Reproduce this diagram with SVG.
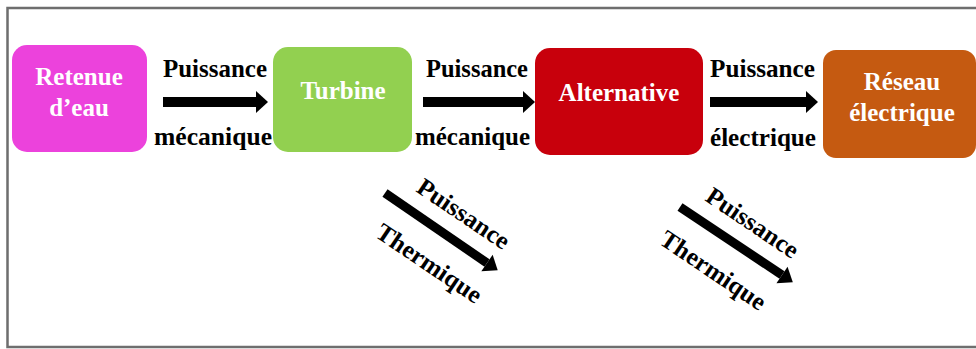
<svg xmlns="http://www.w3.org/2000/svg" width="976" height="349" viewBox="0 0 976 349">
  <defs>
    <style>
      .lbl { font-family: "Liberation Serif", "Times New Roman", serif; font-weight: bold; font-size: 25px; fill: #000; }
      .ntx { font-family: "Liberation Serif", "Times New Roman", serif; font-weight: bold; font-size: 25px; fill: #fff; text-anchor: middle; }
      .arr { stroke: #000; stroke-width: 10; fill: none; }
      .darr { stroke: #000; stroke-width: 9; fill: none; }
    </style>
    <marker id="head" markerUnits="userSpaceOnUse" markerWidth="14" markerHeight="24" refX="0" refY="11" orient="auto" overflow="visible">
      <path d="M0,0 L12,11 L0,22 z" fill="#000"/>
    </marker>
    <marker id="dhead" markerUnits="userSpaceOnUse" markerWidth="16" markerHeight="22" refX="0" refY="10" orient="auto" overflow="visible">
      <path d="M0,0 L13,10 L0,20 z" fill="#000"/>
    </marker>
  </defs>
  <rect x="0" y="0" width="976" height="349" fill="#fff"/>
  <rect x="7.5" y="8" width="1000" height="339" fill="none" stroke="#6e6e6e" stroke-width="2.5"/>

  <g id="retenue">
    <rect x="12" y="45" width="135" height="107" rx="15" fill="#EC42DC"/>
    <text class="ntx" x="79" y="85">Retenue</text>
    <text class="ntx" x="79" y="116">d’eau</text>
  </g>
  <g id="turbine">
    <rect x="273" y="47" width="139" height="105" rx="15" fill="#92D050"/>
    <text class="ntx" x="343" y="99">Turbine</text>
  </g>
  <g id="alternative">
    <rect x="535" y="48" width="168" height="107" rx="15" fill="#C8000C"/>
    <text class="ntx" x="619" y="101">Alternative</text>
  </g>
  <g id="reseau">
    <rect x="823" y="50" width="153" height="108" rx="13" fill="#C55A11"/>
    <text class="ntx" x="902" y="90">Réseau</text>
    <text class="ntx" x="902" y="121">électrique</text>
  </g>

  <g id="connectors">
    <line class="arr" x1="163" y1="102" x2="256" y2="102" marker-end="url(#head)"/>
    <line class="arr" x1="423" y1="102" x2="523" y2="102" marker-end="url(#head)"/>
    <line class="arr" x1="710" y1="102" x2="806" y2="102" marker-end="url(#head)"/>
    <line class="darr" x1="385" y1="193" x2="487" y2="263" marker-end="url(#dhead)"/>
    <line class="darr" x1="680" y1="207" x2="782" y2="275" marker-end="url(#dhead)"/>
  </g>

  <g id="labels">
    <text class="lbl" x="163" y="77" textLength="104" lengthAdjust="spacingAndGlyphs">Puissance</text>
    <text class="lbl" x="154" y="145" textLength="118" lengthAdjust="spacingAndGlyphs">mécanique</text>
    <text class="lbl" x="426" y="77" textLength="102" lengthAdjust="spacingAndGlyphs">Puissance</text>
    <text class="lbl" x="415" y="145" textLength="115" lengthAdjust="spacingAndGlyphs">mécanique</text>
    <text class="lbl" x="710" y="77" textLength="105" lengthAdjust="spacingAndGlyphs">Puissance</text>
    <text class="lbl" x="710" y="146" textLength="106" lengthAdjust="spacingAndGlyphs">électrique</text>
    <text class="lbl" transform="translate(415,191) rotate(34)" textLength="106" lengthAdjust="spacingAndGlyphs">Puissance</text>
    <text class="lbl" transform="translate(374,236) rotate(34)" textLength="122" lengthAdjust="spacingAndGlyphs">Thermique</text>
    <text class="lbl" transform="translate(704,200) rotate(34)" textLength="106" lengthAdjust="spacingAndGlyphs">Puissance</text>
    <text class="lbl" transform="translate(658,243) rotate(34)" textLength="122" lengthAdjust="spacingAndGlyphs">Thermique</text>
  </g>
</svg>
